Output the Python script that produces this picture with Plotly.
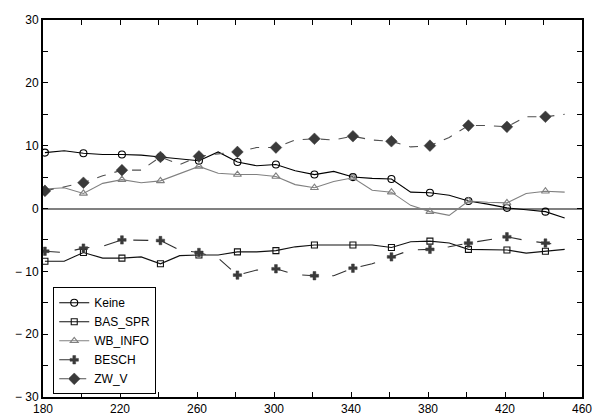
import plotly.graph_objects as go

x_vals = [181 + 10 * k for k in range(28)]

keine = [8.9, 9.2, 8.8, 8.6, 8.6, 8.5, 8.2, 7.9, 7.6, 9.0, 7.4, 6.8, 7.0, 6.0,
         5.4, 5.9, 5.0, 4.8, 4.7, 2.6, 2.5, 2.1, 1.2, 0.7, 0.1, -0.2, -0.5, -1.5]
bas_spr = [-8.4, -8.4, -7.0, -7.9, -7.9, -7.7, -8.8, -7.5, -7.4, -7.4, -6.9, -6.9, -6.7, -6.1,
           -5.8, -5.8, -5.8, -5.8, -6.2, -5.3, -5.2, -5.5, -6.5, -6.5, -6.6, -7.1, -6.8, -6.5]
wb_info = [3.1, 3.3, 2.4, 4.0, 4.6, 4.1, 4.4, 5.6, 6.7, 5.6, 5.4, 5.4, 5.1, 3.8,
           3.3, 4.3, 4.9, 2.9, 2.6, 0.5, -0.5, -1.1, 1.2, 1.0, 0.9, 2.4, 2.75, 2.6]
besch = [-6.8, -7.0, -6.3, -6.0, -5.0, -5.0, -5.1, -6.6, -7.0, -7.9, -10.6, -9.8, -9.6, -10.5,
         -10.7, -10.7, -9.5, -8.8, -7.7, -6.6, -6.5, -6.1, -5.5, -5.0, -4.5, -5.1, -5.5, -5.9]
zw_v = [2.8, 3.4, 4.1, 5.2, 6.1, 6.1, 8.2, 7.0, 8.3, 8.7, 9.0, 9.7, 9.7, 10.9,
        11.1, 10.9, 11.5, 10.9, 10.7, 9.8, 10.0, 11.3, 13.2, 13.2, 13.0, 14.6, 14.6, 15.0]

x_tick_vals = list(range(180, 461, 20))
x_tick_text = [str(v) if (v - 180) % 40 == 0 else "" for v in x_tick_vals]
y_tick_vals = list(range(-30, 31, 5))
y_tick_text = [("\u2212 " + str(-v) if v < 0 else str(v)) if v % 10 == 0 else "" for v in y_tick_vals]

series = [
    ("Keine", keine, "#000000", "solid", "circle-open", 7),
    ("BAS_SPR", bas_spr, "#111111", "solid", "square-open", 6),
    ("WB_INFO", wb_info, "#808080", "solid", "triangle-up-open", 7),
    ("BESCH", besch, "#303030", "longdash", "cross", 7),
    ("ZW_V", zw_v, "#505050", "dash", "diamond", 9),
]

fig = go.Figure()
for name, ys, color, dash, sym, size in series:
    fig.add_trace(go.Scatter(x=x_vals, y=ys, mode="lines", showlegend=False,
                             line=dict(color=color, width=1.1, dash=dash), legendgroup=name))
    mcolor = "#3a3a3a" if sym in ("cross", "diamond") else color
    mline = 0.5 if sym in ("cross", "diamond") else 1.1
    fig.add_trace(go.Scatter(x=x_vals[::2], y=ys[::2], mode="markers", showlegend=False, legendgroup=name,
                             marker=dict(symbol=sym, size=size, color=mcolor,
                                         line=dict(color=mcolor, width=mline))))
    fig.add_trace(go.Scatter(x=[None], y=[None], mode="lines+markers", name=name, legendgroup=name,
                             line=dict(color=color, width=1.1, dash=dash),
                             marker=dict(symbol=sym, size=size, color=mcolor,
                                         line=dict(color=mcolor, width=mline))))

fig.update_layout(
    width=593, height=416,
    margin=dict(l=43, r=11, t=20, b=19, autoexpand=False),
    paper_bgcolor="white", plot_bgcolor="white",
    font=dict(family="Liberation Sans, Arial, sans-serif", size=12, color="black"),
    legend=dict(x=0.019, y=0.291, xanchor="left", yanchor="top",
                bordercolor="black", borderwidth=1, bgcolor="white",
                font=dict(size=12), tracegroupgap=0, itemwidth=30),
    xaxis=dict(range=[180, 460], tickvals=x_tick_vals, ticktext=x_tick_text,
               ticks="inside", ticklen=5, tickcolor="black", tickwidth=1,
               showline=True, linecolor="black", linewidth=2, mirror="allticks",
               showgrid=False, zeroline=False, automargin=False),
    yaxis=dict(range=[-30, 30], tickvals=y_tick_vals, ticktext=y_tick_text,
               ticks="inside", ticklen=5, tickcolor="black", tickwidth=1,
               showline=True, linecolor="black", linewidth=2, mirror="allticks",
               showgrid=False, zeroline=True, zerolinecolor="#808080", zerolinewidth=2,
               automargin=False),
)

fig.write_html("out.html", config={"displayModeBar": False},
               post_script="document.body.style.margin='0';document.body.style.overflow='hidden';")
